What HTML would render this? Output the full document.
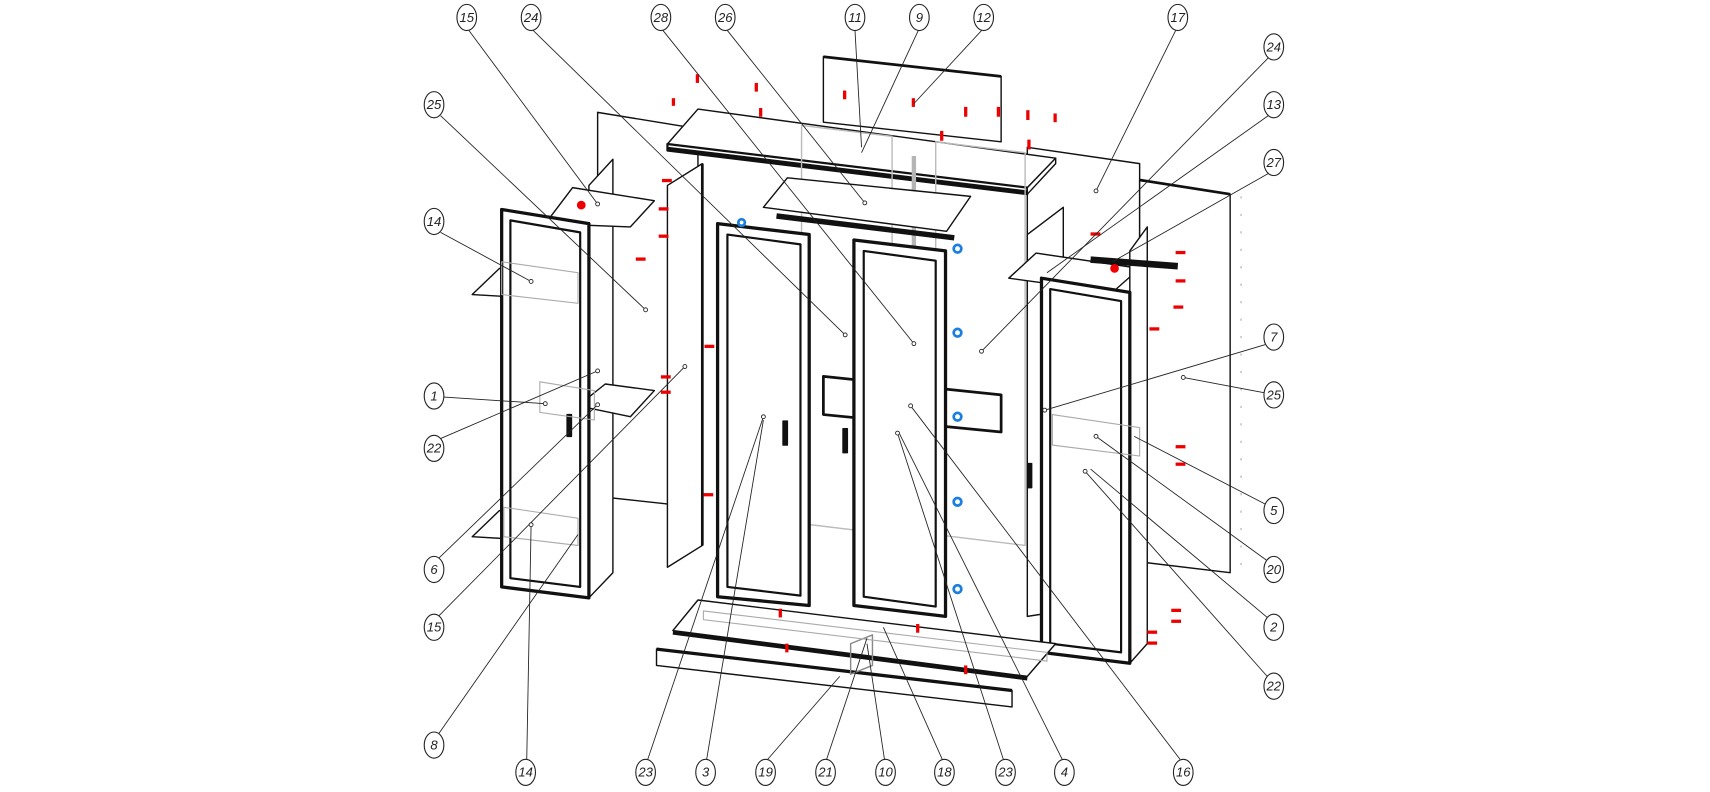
<!DOCTYPE html>
<html><head><meta charset="utf-8"><style>
html,body{margin:0;padding:0;background:#fff;}
svg{display:block}
text{font-family:"Liberation Sans",sans-serif;font-style:italic;font-size:12px;fill:#222}
</style></head><body>
<svg width="1710" height="792" viewBox="0 0 1568 726" preserveAspectRatio="none" xmlns="http://www.w3.org/2000/svg">
<g fill="#fff" stroke="#111" stroke-width="1.3" stroke-linejoin="round">
<!-- back panels -->
<polygon points="755,52 918,70 918,130 755,112"/>
<line x1="755" y1="52" x2="918" y2="70" stroke-width="2.5"/>
<polygon points="548,103 640,118 640,465 548,455"/>
<polygon points="942,135 1045,150 1045,520 942,505"/>
<polygon points="1045,165 1128,178 1128,525 1045,515"/>
<line x1="1045" y1="165" x2="1128" y2="178" stroke-width="2.5"/>
<!-- top lid -->
<polygon points="612,132 640,100 968,145 942,172 612,132"/>
<polygon points="612,132 942,172 942,178 612,138" fill="#fff" stroke-width="2"/>
<line x1="612" y1="136" x2="942" y2="176" stroke-width="3"/>
<polygon points="942,172 968,145 968,150 942,178"/>
<!-- center uprights -->
<polygon points="735,115 818,125 818,490 735,480" fill="none" stroke="#bbb"/>
<polygon points="858,130 940,140 940,500 858,490" fill="none" stroke="#bbb"/>
<line x1="838" y1="143" x2="838" y2="487" stroke="#b5b5b5" stroke-width="4"/>
<!-- center shelf -->
<polygon points="700,190 722,163 890,180 868,212"/>
<line x1="712" y1="198" x2="875" y2="218" stroke-width="5"/>
<!-- mid panel -->
<polygon points="755,345 918,362 918,396 755,380" stroke-width="2.5"/>
<!-- center doors -->
<polygon points="658,205 742,215 742,555 658,547" stroke-width="3"/>
<polygon points="667,215 734,224 734,546 667,538" stroke-width="2"/>
<polygon points="783,220 867,230 867,565 783,555" stroke-width="3"/>
<polygon points="792,230 858,239 858,556 792,547" stroke-width="2"/>
<rect x="718" y="386" width="4" height="22" fill="#111"/>
<rect x="773" y="393" width="4" height="22" fill="#111"/>
<!-- left cabinet -->
<polygon points="540,170 562,146 562,525 540,548"/>
<polygon points="500,205 525,172 600,184 578,208"/>
<polygon points="433,270 458,246 540,256 518,275"/>
<polygon points="530,372 555,352 600,358 578,382"/>
<polygon points="433,492 458,468 540,478 518,497"/>
<polygon points="612,170 644,150 644,500 612,520"/>
<line x1="644" y1="150" x2="644" y2="500" stroke-width="2.5"/>
<polygon points="460,192 540,205 540,548 460,538" stroke-width="3"/>
<polygon points="468,202 532,213 532,538 468,530" stroke-width="2"/>
<rect x="520" y="380" width="4" height="20" fill="#111"/>
<!-- right cabinet -->
<polygon points="942,215 975,190 975,560 942,565"/>
<polygon points="925,255 950,232 1045,246 1020,268"/>
<polygon points="1036,230 1052,208 1052,590 1036,608"/>
<line x1="1000" y1="238" x2="1080" y2="244" stroke-width="6"/>
<polygon points="955,255 1036,268 1036,608 955,598" stroke-width="3"/>
<polygon points="963,265 1028,276 1028,598 963,590" stroke-width="2"/>
<rect x="942" y="425" width="4" height="22" fill="#111"/>
<!-- bottom plinth -->
<polygon points="617,578 640,550 968,590 942,620"/>
<line x1="617" y1="580" x2="942" y2="622" stroke-width="3.5"/>
<polygon points="602,595 928,633 928,648 602,610"/>
<line x1="602" y1="595" x2="928" y2="633" stroke-width="3"/>
<polygon points="780,590 800,582 800,610 780,618" fill="none" stroke="#888"/>
</g>
<!-- gray details -->
<g stroke="#aaa" fill="none" stroke-width="1">
<polygon points="460,240 530,250 530,278 460,270"/>
<polygon points="495,350 545,358 545,385 495,378"/>
<polygon points="462,465 530,475 530,500 462,492"/>
<polygon points="965,380 1045,392 1045,418 965,408"/>
<polygon points="645,560 960,598 960,606 645,568"/>
<line x1="1138" y1="180" x2="1138" y2="520" stroke-dasharray="2 14"/>
</g>
<!-- red marks -->
<g fill="#e00">
<rect x="638" y="68" width="3" height="8"/><rect x="692" y="76" width="3" height="8"/><rect x="616" y="90" width="3" height="7"/><rect x="696" y="99" width="3" height="8"/><rect x="773" y="83" width="3" height="8"/><rect x="836" y="90" width="3" height="8"/><rect x="884" y="98" width="3" height="9"/><rect x="914" y="98" width="3" height="9"/><rect x="941" y="101" width="3" height="9"/><rect x="966" y="104" width="3" height="8"/><rect x="862" y="120" width="3" height="9"/><rect x="942" y="128" width="3" height="9"/>
<rect x="607" y="164" width="9" height="3"/><rect x="604" y="190" width="9" height="3"/><rect x="604" y="215" width="9" height="3"/><rect x="583" y="236" width="9" height="3"/><rect x="646" y="316" width="9" height="3"/><rect x="606" y="344" width="9" height="3"/><rect x="606" y="358" width="9" height="3"/><rect x="645" y="452" width="9" height="3"/>
<rect x="1000" y="213" width="9" height="3"/><rect x="1078" y="230" width="9" height="3"/><rect x="1078" y="256" width="9" height="3"/><rect x="1076" y="280" width="9" height="3"/><rect x="1054" y="300" width="9" height="3"/><rect x="1078" y="408" width="9" height="3"/><rect x="1078" y="424" width="9" height="3"/><rect x="1074" y="558" width="9" height="3"/><rect x="1074" y="568" width="9" height="3"/><rect x="1052" y="578" width="9" height="3"/><rect x="1052" y="588" width="9" height="3"/>
<rect x="714" y="558" width="3" height="8"/><rect x="840" y="572" width="3" height="8"/><rect x="720" y="590" width="3" height="8"/><rect x="884" y="610" width="3" height="8"/>
<circle cx="533" cy="188" r="4"/><circle cx="1022" cy="246" r="4"/>
</g>
<g fill="none" stroke="#1a7fe0" stroke-width="2.5">
<circle cx="680" cy="204" r="3"/><circle cx="878" cy="228" r="3.5"/><circle cx="878" cy="305" r="3.5"/><circle cx="878" cy="382" r="3.5"/><circle cx="878" cy="460" r="3.5"/><circle cx="878" cy="540" r="3.5"/>
</g>
<!-- leader lines -->
<g stroke="#222" stroke-width="0.8" fill="#fff">
<line x1="430" y1="28" x2="548" y2="187"/><line x1="489" y1="28" x2="775" y2="307"/><line x1="608" y1="28" x2="838" y2="315"/><line x1="667" y1="28" x2="793" y2="186"/><line x1="784" y1="28" x2="790" y2="135"/><line x1="842" y1="28" x2="790" y2="140"/><line x1="900" y1="28" x2="838" y2="95"/><line x1="1078" y1="28" x2="1005" y2="175"/>
<line x1="404" y1="106" x2="592" y2="284"/><line x1="404" y1="213" x2="487" y2="258"/><line x1="407" y1="364" x2="500" y2="370"/><line x1="404" y1="402" x2="548" y2="340"/><line x1="402" y1="512" x2="548" y2="371"/><line x1="402" y1="565" x2="628" y2="336"/><line x1="402" y1="673" x2="530" y2="490"/>
<line x1="483" y1="696" x2="487" y2="481"/><line x1="594" y1="696" x2="700" y2="382"/><line x1="648" y1="696" x2="700" y2="385"/><line x1="704" y1="696" x2="770" y2="620"/><line x1="758" y1="696" x2="795" y2="585"/><line x1="811" y1="696" x2="795" y2="590"/><line x1="864" y1="696" x2="810" y2="575"/><line x1="920" y1="696" x2="823" y2="397"/><line x1="974" y1="696" x2="825" y2="398"/><line x1="1082" y1="696" x2="835" y2="372"/>
<line x1="1163" y1="53" x2="900" y2="322"/><line x1="1163" y1="106" x2="960" y2="250"/><line x1="1163" y1="159" x2="1020" y2="240"/><line x1="1160" y1="316" x2="958" y2="376"/><line x1="1159" y1="360" x2="1085" y2="346"/><line x1="1160" y1="462" x2="1040" y2="400"/><line x1="1162" y1="514" x2="1005" y2="400"/><line x1="1162" y1="566" x2="1000" y2="430"/><line x1="1162" y1="620" x2="995" y2="432"/>
<circle cx="548" cy="187" r="1.8"/><circle cx="775" cy="307" r="1.8"/><circle cx="838" cy="315" r="1.8"/><circle cx="793" cy="186" r="1.8"/><circle cx="1005" cy="175" r="1.8"/><circle cx="592" cy="284" r="1.8"/><circle cx="487" cy="258" r="1.8"/><circle cx="500" cy="370" r="1.8"/><circle cx="548" cy="340" r="1.8"/><circle cx="548" cy="371" r="1.8"/><circle cx="628" cy="336" r="1.8"/><circle cx="487" cy="481" r="1.8"/><circle cx="700" cy="382" r="1.8"/><circle cx="823" cy="397" r="1.8"/><circle cx="835" cy="372" r="1.8"/><circle cx="900" cy="322" r="1.8"/><circle cx="958" cy="376" r="1.8"/><circle cx="1085" cy="346" r="1.8"/><circle cx="1005" cy="400" r="1.8"/><circle cx="995" cy="432" r="1.8"/>
</g>
<!-- callouts -->
<g fill="#fff" stroke="#222" stroke-width="1">
<ellipse cx="428" cy="16" rx="9" ry="12"/><ellipse cx="487" cy="16" rx="9" ry="12"/><ellipse cx="606" cy="16" rx="9" ry="12"/><ellipse cx="665" cy="16" rx="9" ry="12"/><ellipse cx="784" cy="16" rx="9" ry="12"/><ellipse cx="843" cy="16" rx="9" ry="12"/><ellipse cx="902" cy="16" rx="9" ry="12"/><ellipse cx="1080" cy="16" rx="9" ry="12"/>
<ellipse cx="398" cy="96" rx="9" ry="12"/><ellipse cx="398" cy="203" rx="9" ry="12"/><ellipse cx="398" cy="363" rx="9" ry="12"/><ellipse cx="398" cy="411" rx="9" ry="12"/><ellipse cx="398" cy="522" rx="9" ry="12"/><ellipse cx="398" cy="575" rx="9" ry="12"/><ellipse cx="398" cy="683" rx="9" ry="12"/>
<ellipse cx="482" cy="708" rx="9" ry="12"/><ellipse cx="592" cy="708" rx="9" ry="12"/><ellipse cx="647" cy="708" rx="9" ry="12"/><ellipse cx="702" cy="708" rx="9" ry="12"/><ellipse cx="757" cy="708" rx="9" ry="12"/><ellipse cx="812" cy="708" rx="9" ry="12"/><ellipse cx="866" cy="708" rx="9" ry="12"/><ellipse cx="922" cy="708" rx="9" ry="12"/><ellipse cx="976" cy="708" rx="9" ry="12"/><ellipse cx="1085" cy="708" rx="9" ry="12"/>
<ellipse cx="1168" cy="43" rx="9" ry="12"/><ellipse cx="1168" cy="96" rx="9" ry="12"/><ellipse cx="1168" cy="149" rx="9" ry="12"/><ellipse cx="1168" cy="309" rx="9" ry="12"/><ellipse cx="1168" cy="362" rx="9" ry="12"/><ellipse cx="1168" cy="468" rx="9" ry="12"/><ellipse cx="1168" cy="522" rx="9" ry="12"/><ellipse cx="1168" cy="575" rx="9" ry="12"/><ellipse cx="1168" cy="629" rx="9" ry="12"/>
</g>
<g text-anchor="middle" font-size="11">
<text x="428" y="20">15</text><text x="487" y="20">24</text><text x="606" y="20">28</text><text x="665" y="20">26</text><text x="784" y="20">11</text><text x="843" y="20">9</text><text x="902" y="20">12</text><text x="1080" y="20">17</text>
<text x="398" y="100">25</text><text x="398" y="207">14</text><text x="398" y="367">1</text><text x="398" y="415">22</text><text x="398" y="526">6</text><text x="398" y="579">15</text><text x="398" y="687">8</text>
<text x="482" y="712">14</text><text x="592" y="712">23</text><text x="647" y="712">3</text><text x="702" y="712">19</text><text x="757" y="712">21</text><text x="812" y="712">10</text><text x="866" y="712">18</text><text x="922" y="712">23</text><text x="976" y="712">4</text><text x="1085" y="712">16</text>
<text x="1168" y="47">24</text><text x="1168" y="100">13</text><text x="1168" y="153">27</text><text x="1168" y="313">7</text><text x="1168" y="366">25</text><text x="1168" y="472">5</text><text x="1168" y="526">20</text><text x="1168" y="579">2</text><text x="1168" y="633">22</text>
</g>
</svg>
</body></html>
